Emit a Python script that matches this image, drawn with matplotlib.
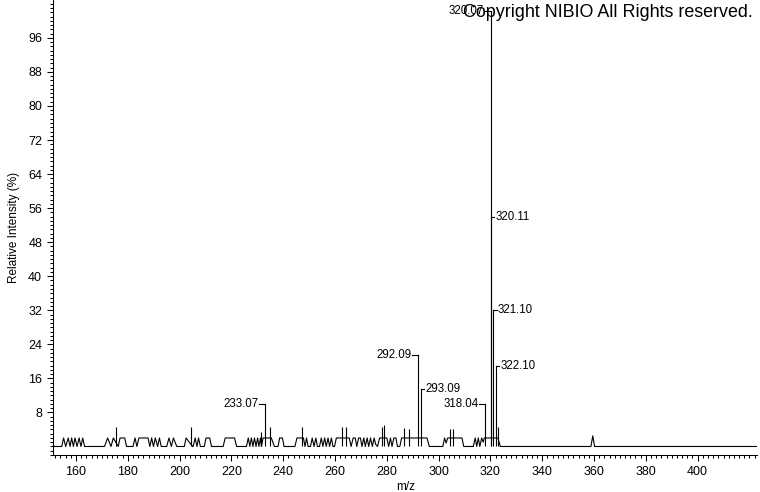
import matplotlib
matplotlib.use("Agg")
import matplotlib.pyplot as plt
from matplotlib.ticker import MultipleLocator, FixedLocator

plt.rcParams['font.family'] = ['Liberation Sans', 'DejaVu Sans']

# baseline noise profile (m/z, relative intensity %)
noise_mz = [151.1, 151.4, 154.5, 155.2, 156.0, 157.0, 157.7, 158.3, 159.0, 159.6, 160.4, 161.2, 161.9, 162.6, 163.3,
            171.0, 172.2, 173.5, 174.4, 176.3, 177.0, 178.8, 179.5, 182.0, 182.8, 183.5, 184.3, 187.8, 188.5, 189.2,
            189.9, 190.6, 191.5, 192.2, 192.9, 195.0, 195.9, 196.8, 197.6, 198.9, 201.8, 202.5, 205.0, 205.2, 206.0,
            206.7, 207.3, 208.0, 209.5, 210.2, 211.6, 212.3, 216.8, 217.6, 221.2, 222.0, 225.8, 226.5, 227.1, 227.7,
            228.3, 228.9, 229.5, 230.1, 230.6, 231.2, 231.6, 232.2, 235.4, 236.6, 238.0, 238.6, 239.7, 240.3, 244.5,
            245.3, 247.8, 248.4, 249.0, 249.6, 250.5, 251.2, 251.9, 252.6, 253.2, 254.0, 254.7, 255.3, 256.0, 256.6,
            257.3, 257.9, 258.6, 259.2, 259.8, 260.5, 265.5, 266.2, 267.0, 267.8, 268.4, 269.1, 269.8, 270.4, 271.1,
            271.7, 272.4, 273.0, 273.7, 274.4, 275.1, 275.7, 276.4, 277.2, 280.0, 280.7, 281.4, 282.0, 282.7, 283.5,
            284.1, 285.0, 285.7, 295.5, 296.4, 301.6, 302.3, 302.9, 303.5, 309.0, 309.7, 313.4, 314.1, 314.7, 315.3,
            315.9, 316.6, 317.2, 317.6, 322.9, 323.8, 358.8, 359.5, 360.2, 423.1]
noise_int = [2.0, 0.0, 0.0, 2.0, 0.0, 2.0, 0.0, 2.0, 0.0, 2.0, 0.0, 2.0, 0.0, 2.0, 0.0,
             0.0, 2.0, 0.0, 2.0, 0.0, 2.0, 2.0, 0.0, 0.0, 2.0, 0.0, 2.0, 2.0, 0.0, 2.0,
             0.0, 2.0, 0.0, 2.0, 0.0, 0.0, 2.0, 0.0, 2.0, 0.0, 0.0, 2.0, 0.0, 0.0, 2.0,
             0.0, 2.0, 0.0, 0.0, 2.0, 2.0, 0.0, 0.0, 2.0, 2.0, 0.0, 0.0, 2.0, 0.0, 2.0,
             0.0, 2.0, 0.0, 2.0, 0.0, 2.0, 0.0, 2.0, 2.0, 0.0, 0.0, 2.0, 2.0, 0.0, 0.0,
             2.0, 2.0, 0.0, 2.0, 0.0, 0.0, 2.0, 0.0, 2.0, 0.0, 0.0, 2.0, 0.0, 2.0, 0.0,
             2.0, 0.0, 2.0, 0.0, 0.0, 2.0, 2.0, 0.0, 2.0, 2.0, 0.0, 2.0, 2.0, 0.0, 2.0,
             0.0, 2.0, 0.0, 2.0, 0.0, 2.0, 0.5, 0.0, 2.0, 2.0, 0.0, 2.0, 0.0, 2.0, 2.0,
             0.0, 0.0, 2.0, 2.0, 0.0, 0.0, 2.0, 0.8, 2.0, 2.0, 0.0, 0.0, 2.0, 0.0, 2.0,
             0.0, 2.0, 1.0, 2.0, 2.0, 0.0, 0.0, 2.5, 0.0, 0.0]

# centroid sticks
peak_mz = [175.4, 204.4, 231.5, 233.07, 234.8, 247.4, 262.5, 264.2, 278.2, 279.0, 286.5, 288.6,
           292.09, 293.09, 304.3, 305.6, 318.04, 320.07, 320.11, 321.10, 322.10, 323.1]
peak_int = [4.5, 4.5, 3.5, 7.0, 4.5, 4.5, 4.5, 4.5, 4.5, 5.0, 4.3, 4.0,
            18.5, 10.5, 4.0, 4.0, 7.0, 100.0, 51.0, 29.0, 16.0, 4.5]

# labelled peaks
label_mz = [233.07, 292.09, 318.04, 320.07, 293.09, 320.11, 321.10, 322.10]
label_int = [7.0, 18.5, 7.0, 100.0, 10.5, 51.0, 29.0, 16.0]
label_txt = ['233.07', '292.09', '318.04', '320.07', '293.09', '320.11', '321.10', '322.10']
label_side = ['left', 'left', 'left', 'left', 'right', 'right', 'right', 'right']

fig = plt.figure(figsize=(7.6, 4.92), dpi=100)
ax = fig.add_axes([0.0697, 0.0752, 0.927, 0.9248])

lw = 0.8
ax.plot(noise_mz, noise_int, color='black', lw=lw)
ax.vlines(peak_mz, 0, peak_int, color='black', lw=lw)

off = 3.0
for mz, h, t, side in zip(label_mz, label_int, label_txt, label_side):
    ly = h + off
    if t == '320.07':
        ly = h + 2.2
    ax.plot([mz, mz], [h, ly], color='black', lw=lw)
    if side == 'left':
        ax.plot([mz, mz - 2.3], [ly, ly], color='black', lw=lw)
        ax.text(mz - 2.6, ly, t, ha='right', va='center', fontsize=8.3)
    else:
        ax.plot([mz, mz + 1.3], [ly, ly], color='black', lw=lw)
        ax.text(mz + 1.7, ly, t, ha='left', va='center', fontsize=8.3)

ax.set_xlim(151.1, 423.1)
ax.set_ylim(-2.0, 104.9)
ax.xaxis.set_major_locator(MultipleLocator(20))
ax.xaxis.set_minor_locator(MultipleLocator(2))
ax.yaxis.set_major_locator(FixedLocator(list(range(8, 104, 8))))
ax.yaxis.set_minor_locator(MultipleLocator(1))
ax.set_xticks(list(range(160, 420, 20)))
ax.tick_params(which='major', length=4.3, width=0.75, labelsize=9, pad=3.5)
ax.tick_params(which='minor', length=2.2, width=0.75)
for s in ['top', 'right']:
    ax.spines[s].set_visible(False)
for s in ['left', 'bottom']:
    ax.spines[s].set_linewidth(0.75)

ax.set_xlabel('m/z', fontsize=8.5, labelpad=2)
ax.set_ylabel('Relative Intensity (%)', fontsize=8.5, labelpad=6)

fig.text(0.991, 0.974, 'Copyright NIBIO All Rights reserved.', ha='right', va='center', fontsize=12.9)

fig.savefig('out.png', dpi=100)
